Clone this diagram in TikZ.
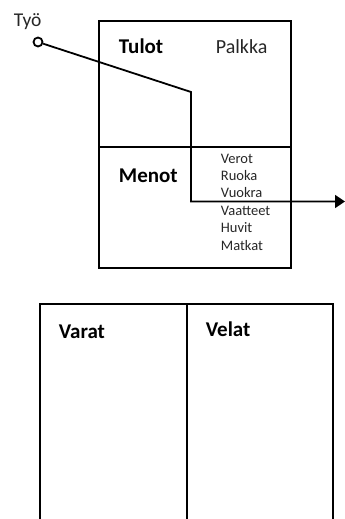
\documentclass[tikz,border=0pt]{standalone}
\usepackage{fontspec}
\setmainfont{Carlito}
\usetikzlibrary{arrows.meta}

\begin{document}
\begin{tikzpicture}[x=1pt,y=1pt,line width=1.8pt,
		otsikko/.style={anchor=base west,inner sep=0pt,font=\fontsize{21}{24}\selectfont\bfseries},
		nimi/.style={anchor=base west,inner sep=0pt,font=\fontsize{20}{24}\selectfont,text=black!85},
		erä/.style={anchor=base west,inner sep=0pt,font=\fontsize{14.5}{17}\selectfont,text=black!85}]
		\useasboundingbox (0,0) rectangle (345,-519);
		% tuloslaskelma
		\node[draw,anchor=north west,minimum width=192,minimum height=247,inner sep=0pt] (tulos) at (98,-20) {};
		\draw (tulos.west |- 0,-147) -- (tulos.east |- 0,-147);
		\node[otsikko] (tulot) at (118,-53) {Tulot};
		\node[nimi] (palkka) at (215,-53) {Palkka};
		\node[otsikko] (menot) at (118,-182) {Menot};
		\foreach \e [count=\i] in {Verot,Ruoka,Vuokra,Vaatteet,Huvit,Matkat}
			\node[erä] (meno\i) at (220,{-163-17.4*(\i-1)}) {\e};
		% tase
		\draw (40,-519) -- (40,-304) -- (333,-304) -- (333,-519)
			(187,-304) -- (187,-519);
		\node[otsikko] (varat) at (58,-338) {Varat};
		\node[otsikko] (velat) at (205,-336) {Velat};
		% rahavirta
		\node[draw,circle,minimum size=9pt,inner sep=0pt] (tyo) at (38,-42) {};
		\node[nimi,font=\fontsize{19.5}{22}\selectfont] (tyoteksti) at (13,-27) {Työ};
		\coordinate (kulma) at (191,-92);
		\coordinate (ulos) at (345,-201.5);
		\draw[-{Triangle[length=10pt,width=13pt]}] (tyo) -- (kulma) |- (ulos);
	\end{tikzpicture}
\end{document}
